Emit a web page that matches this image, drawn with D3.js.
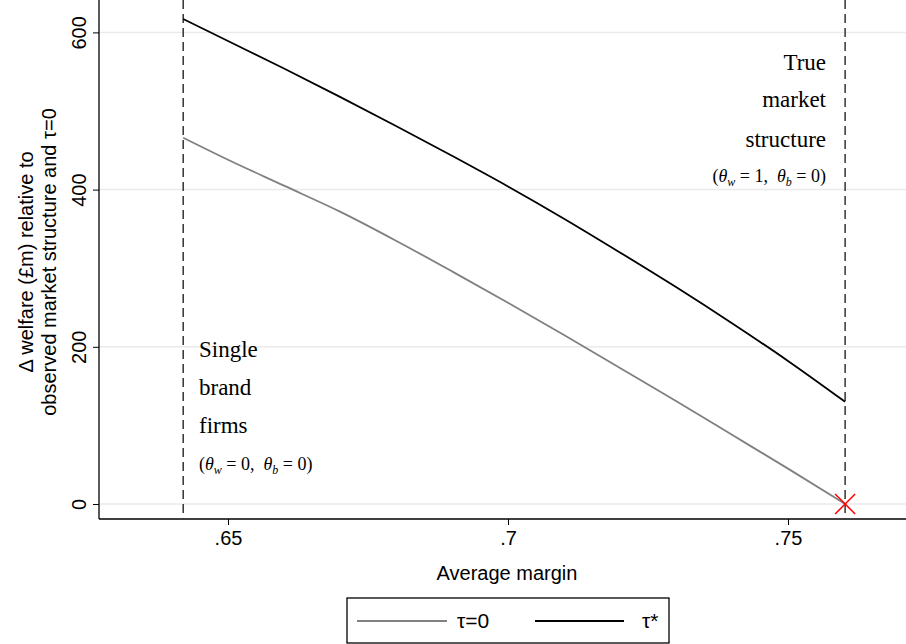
<!DOCTYPE html>
<html><head><meta charset="utf-8">
<script src="https://cdn.jsdelivr.net/npm/d3@7"></script>
<style>body{margin:0;background:#fff}</style></head>
<body><svg id="c" width="906" height="644"></svg>
<script>
const margins = [0.642,0.65,0.66,0.67,0.68,0.69,0.70,0.71,0.72,0.73,0.74,0.75,0.7602];
const tauZero = [466,438,405,372,335,296,256,215,173,131,88,45,0];
const tauStar = [617,589,554,518,481,443,404,363,320,276,230,182,130];
const xTicks = [0.65,0.70,0.75];
const xTickLabels = [".65",".7",".75"];
const yTicks = [0,200,400,600];
const refLines = [0.642,0.7602];

const svg = d3.select("#c");
const x = d3.scaleLinear().domain([0.65,0.75]).range([228,788]);
const y = d3.scaleLinear().domain([0,600]).range([504,32.4]);
const L=99, R=906, B=519;
const sans="Liberation Sans, Arial, sans-serif", serif="Liberation Serif, DejaVu Serif, serif";

svg.selectAll(".g").data(yTicks).enter().append("line")
 .attr("x1",L).attr("x2",R).attr("y1",d=>y(d)).attr("y2",d=>y(d))
 .attr("stroke","#eaeaea").attr("stroke-width",1.5);

const xa = svg.append("g").attr("transform",`translate(0,${B})`)
 .call(d3.axisBottom(x).tickValues(xTicks).tickFormat((d,i)=>xTickLabels[i]).tickSizeOuter(0).tickSize(6).tickPadding(6));
xa.select(".domain").attr("d",`M${L},0H${R}`).attr("stroke","#000").attr("stroke-width",1.3);
xa.selectAll("text").attr("font-family",sans).attr("font-size",20).attr("fill","#000");

const ya = svg.append("g").attr("transform",`translate(${L},0)`)
 .call(d3.axisLeft(y).tickValues(yTicks).tickSizeOuter(0).tickSize(6));
ya.select(".domain").attr("d",`M0,0V${B}`).attr("stroke","#000").attr("stroke-width",1.3);
ya.selectAll(".tick text").attr("font-family",sans).attr("font-size",20).attr("fill","#000")
 .attr("text-anchor","middle").attr("transform","rotate(-90)").attr("x",0).attr("y",-13).attr("dy","0");

svg.append("text").attr("transform","translate(33,262) rotate(-90)").attr("text-anchor","middle")
 .attr("font-family",sans).attr("font-size",20).text("Δ welfare (£m) relative to");
svg.append("text").attr("transform","translate(56,262) rotate(-90)").attr("text-anchor","middle")
 .attr("font-family",sans).attr("font-size",20).text("observed market structure and τ=0");
svg.append("text").attr("x",507).attr("y",580).attr("text-anchor","middle")
 .attr("font-family",sans).attr("font-size",20).text("Average margin");

svg.selectAll(".ref").data(refLines).enter().append("line")
 .attr("x1",d=>x(d)).attr("x2",d=>x(d)).attr("y1",0).attr("y2",B)
 .attr("stroke","#333").attr("stroke-width",1.5).attr("stroke-dasharray","9,5");

const line = (vals)=>d3.line().x((d,i)=>x(margins[i])).y(d=>y(d)).curve(d3.curveMonotoneX)(vals);
svg.append("path").attr("d",line(tauZero)).attr("fill","none").attr("stroke","#808080").attr("stroke-width",1.8);
svg.append("path").attr("d",line(tauStar)).attr("fill","none").attr("stroke","#000").attr("stroke-width",1.8);

const mx=x(margins[margins.length-1]), my=y(tauZero[tauZero.length-1]);
svg.append("path").attr("d",`M${mx-10},${my-10}L${mx+10},${my+10}M${mx-10},${my+10}L${mx+10},${my-10}`)
 .attr("stroke","red").attr("stroke-width",1.5);

function lbl(t,xx,yy,sz,anchor){svg.append("text").attr("x",xx).attr("y",yy).attr("text-anchor",anchor)
 .attr("font-family",serif).attr("font-size",sz).text(t);}
lbl("Single",199,357,23,"start");lbl("brand",199,395,23,"start");lbl("firms",199,433,23,"start");
lbl("True",826,70,23,"end");lbl("market",826,107,23,"end");lbl("structure",826,147,23,"end");
const fm = v=>`(<tspan font-style="italic">θ</tspan><tspan font-size="12" font-style="italic" dy="4">w</tspan><tspan dy="-4"> = ${v},  </tspan><tspan font-style="italic">θ</tspan><tspan font-size="12" font-style="italic" dy="4">b</tspan><tspan dy="-4"> = 0)</tspan>`;
svg.append("text").attr("x",199).attr("y",470).attr("font-family",serif).attr("font-size",18).attr("xml:space","preserve").style("white-space","pre").html(fm(0));
svg.append("text").attr("x",826).attr("y",182).attr("text-anchor","end").attr("font-family",serif).attr("font-size",18).style("white-space","pre").html(fm(1));

const lg=svg.append("g");
lg.append("rect").attr("x",347).attr("y",598).attr("width",322).attr("height",45).attr("fill","#fff").attr("stroke","#000").attr("stroke-width",1.3);
lg.append("line").attr("x1",357).attr("x2",447).attr("y1",621).attr("y2",621).attr("stroke","#808080").attr("stroke-width",1.8);
lg.append("text").attr("x",457).attr("y",628).attr("font-family",sans).attr("font-size",21).text("τ=0");
lg.append("line").attr("x1",535).attr("x2",624).attr("y1",621).attr("y2",621).attr("stroke","#000").attr("stroke-width",1.8);
lg.append("text").attr("x",642).attr("y",628).attr("font-family",sans).attr("font-size",21).text("τ*");
</script></body></html>
